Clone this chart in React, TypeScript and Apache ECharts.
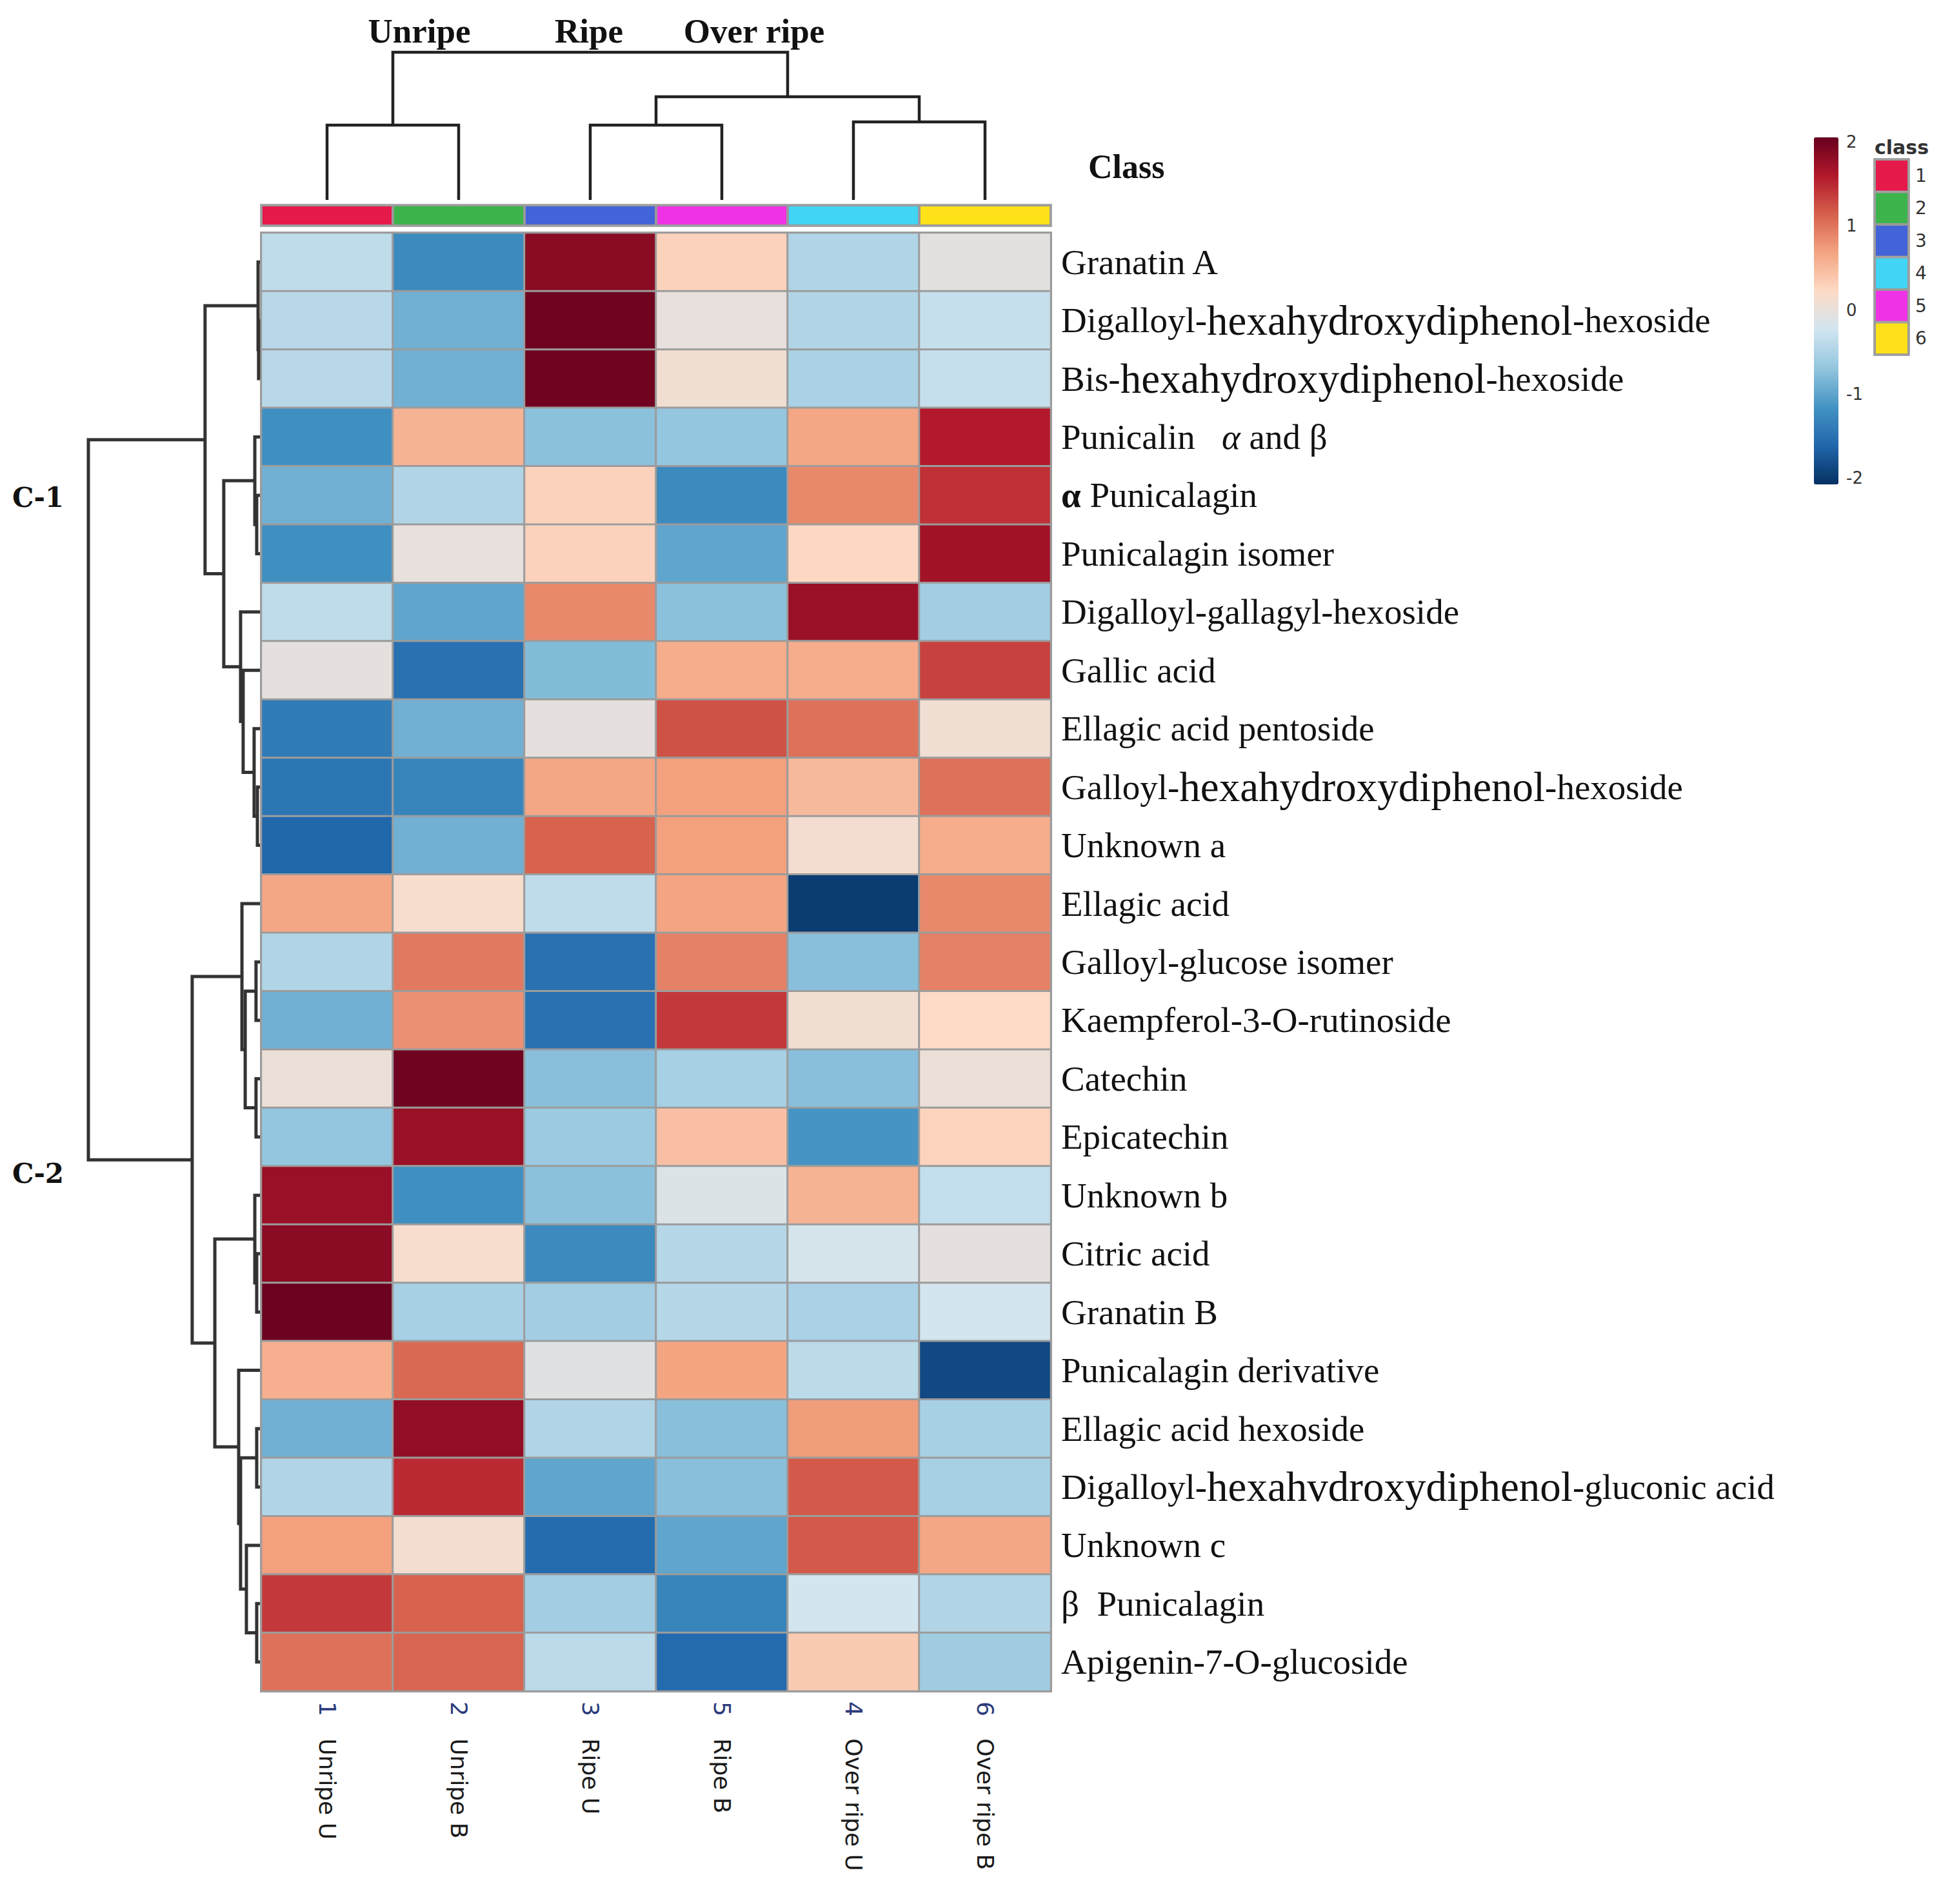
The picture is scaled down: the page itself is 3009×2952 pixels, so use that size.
import React, { useEffect, useRef } from "react";
import * as echarts from "echarts";

// ---------------- data ----------------
const rowNames = [
  "Granatin A",
  "Digalloyl-hexahydroxydiphenol-hexoside",
  "Bis-hexahydroxydiphenol-hexoside",
  "Punicalin   α and β",
  "α Punicalagin",
  "Punicalagin isomer",
  "Digalloyl-gallagyl-hexoside",
  "Gallic acid",
  "Ellagic acid pentoside",
  "Galloyl-hexahydroxydiphenol-hexoside",
  "Unknown a",
  "Ellagic acid",
  "Galloyl-glucose isomer",
  "Kaempferol-3-O-rutinoside",
  "Catechin",
  "Epicatechin",
  "Unknown b",
  "Citric acid",
  "Granatin B",
  "Punicalagin derivative",
  "Ellagic acid hexoside",
  "Digalloyl-hexahvdroxydiphenol-gluconic acid",
  "Unknown c",
  "β  Punicalagin",
  "Apigenin-7-O-glucoside",
];

const colNames = ["Unripe U", "Unripe B", "Ripe U", "Ripe B", "Over ripe U", "Over ripe B"];
const colNums = ["1", "2", "3", "5", "4", "6"];
const colClass = [1, 2, 3, 5, 4, 6];

const classLabels = ["1", "2", "3", "4", "5", "6"];
const classColors = ["#E6194B", "#3CB44B", "#4363D8", "#42D4F4", "#F032E6", "#FFE119"];

const groupLabels = ["Unripe", "Ripe", "Over ripe"];
const clusterLabels = ["C-1", "C-2"];

// z-scores per sample column (rows in the order of rowNames)
const unripeU = [-0.35, -0.4, -0.4, -1.15, -0.85, -1.15, -0.35, -0.02, -1.35, -1.4, -1.55, 0.65, -0.45, -0.85, 0.05, -0.65, 1.7, 1.8, 1.97, 0.58, -0.85, -0.45, 0.7, 1.35, 1.0];
const unripeB = [-1.2, -0.85, -0.85, 0.55, -0.45, 0.0, -0.95, -1.45, -0.85, -1.25, -0.85, 0.15, 0.95, 0.8, 1.95, 1.7, -1.15, 0.15, -0.52, 1.05, 1.75, 1.45, 0.12, 1.1, 1.08];
const ripeU = [1.8, 1.95, 1.95, -0.7, 0.3, 0.3, 0.85, -0.75, -0.02, 0.65, 1.1, -0.35, -1.45, -1.45, -0.72, -0.6, -0.7, -1.2, -0.55, -0.08, -0.45, -0.95, -1.5, -0.55, -0.38];
const ripeB = [0.3, 0.0, 0.1, -0.65, -1.2, -0.95, -0.7, 0.6, 1.2, 0.7, 0.7, 0.67, 0.9, 1.35, -0.52, 0.45, -0.12, -0.42, -0.42, 0.66, -0.72, -0.72, -0.95, -1.25, -1.52];
const overRipeU = [-0.45, -0.45, -0.5, 0.65, 0.85, 0.25, 1.7, 0.6, 1.0, 0.5, 0.12, -1.9, -0.72, 0.1, -0.72, -1.1, 0.55, -0.17, -0.5, -0.38, 0.72, 1.15, 1.15, -0.2, 0.35];
const overRipeB = [-0.05, -0.3, -0.3, 1.55, 1.4, 1.65, -0.55, 1.3, 0.1, 1.0, 0.6, 0.85, 0.9, 0.22, 0.05, 0.28, -0.32, -0.02, -0.2, -1.8, -0.52, -0.52, 0.65, -0.45, -0.57];

const columnsData = [unripeU, unripeB, ripeU, ripeB, overRipeU, overRipeB];

// hclust-like merges: [a, b, height]; negative = leaf (1-based), positive = earlier merge (1-based)
const rowMerges: [number, number, number][] = [
  [-2, -3, 0.08],
  [-1, 1, 0.11],
  [-5, -6, 0.19],
  [-4, 3, 0.3],
  [-10, -11, 0.15],
  [-9, 5, 0.34],
  [-8, 6, 0.98],
  [-7, 7, 1.13],
  [4, 8, 2.11],
  [2, 9, 3.2],
  [-13, -14, 0.23],
  [-15, -16, 0.23],
  [11, 12, 0.86],
  [-12, 13, 1.05],
  [-18, -19, 0.19],
  [-17, 15, 0.3],
  [-21, -22, 0.19],
  [-24, -25, 0.19],
  [-23, 18, 0.79],
  [17, 19, 1.13],
  [-20, 20, 1.24],
  [16, 21, 2.63],
  [14, 22, 3.95],
  [10, 23, 10.0],
];

const colMerges: [number, number, number][] = [
  [-1, -2, 5.07],
  [-3, -4, 5.07],
  [-5, -6, 5.28],
  [2, 3, 6.99],
  [1, 4, 10.0],
];

const colorbarMin = -2;
const colorbarMax = 2;
const palette = ["#053061", "#2166AC", "#4393C3", "#92C5DE", "#D1E5F0", "#FDDBC7", "#F4A582", "#D6604D", "#B2182B", "#67001F"];

// ---------------- helpers ----------------
function buildLinks(merges: [number, number, number][]) {
  const pos: number[] = [];
  const hgt: number[] = [];
  const links: number[][] = [];
  const get = (id: number): [number, number] => {
    if (id < 0) return [-id - 1 + 0.5, 0];
    return [pos[id - 1], hgt[id - 1]];
  };
  merges.forEach(([a, b, h]) => {
    const [pa, ha] = get(a);
    const [pb, hb] = get(b);
    links.push([pa, ha, pb, hb, h]);
    pos.push((pa + pb) / 2);
    hgt.push(h);
  });
  return links;
}

function richRow(name: string) {
  let s = name.replace(/(hexah[yv]droxydiphenol)/, "{big|$1}");
  if (s.startsWith("α ")) s = "{b|α}" + s.slice(1);
  s = s.replace("α and", "{it|α} and");
  return s;
}

const SERIF = "Liberation Serif";
const HEAT_TOP = 361;
const HEAT_H = 2261;

export default function App() {
  const ref = useRef<HTMLDivElement>(null);

  useEffect(() => {
    if (!ref.current) return;
    const chart = echarts.init(ref.current, undefined, { renderer: "svg" });

    const heatData: number[][] = [];
    columnsData.forEach((col, ci) => {
      col.forEach((v, ri) => heatData.push([ci, ri, v]));
    });

    const rowLinks = buildLinks(rowMerges);
    const colLinks = buildLinks(colMerges);

    const option: any = {
      animation: false,
      backgroundColor: "#ffffff",
      grid: [
        { left: 405, top: HEAT_TOP, width: 1224, height: HEAT_H, show: true, borderColor: "#9c9c9c", borderWidth: 4, backgroundColor: "transparent" },
        { left: 405, top: 318, width: 1224, height: 32, show: true, borderColor: "#a8a8a8", borderWidth: 4, backgroundColor: "transparent" },
        { left: 405, top: 81, width: 1224, height: 229 },
        { left: 137, top: HEAT_TOP, width: 266, height: HEAT_H },
        { left: 2906, top: 247, width: 53, height: 303, show: true, borderColor: "#a6a6a6", borderWidth: 4, backgroundColor: "transparent" },
        { left: 2851, top: 220, width: 1, height: 521 },
      ],
      xAxis: [
        {
          gridIndex: 0,
          type: "category",
          data: colNames,
          position: "bottom",
          axisLine: { show: false },
          axisTick: { show: false },
          splitLine: { show: false },
          axisLabel: {
            interval: 0,
            rotate: -90,
            margin: 16,
            fontFamily: "DejaVu Sans",
            fontSize: 36,
            color: "#1a1a1a",
            formatter: (v: string, i: number) => `{n|${colNums[i]}}   ${v}`,
            rich: { n: { fontFamily: "DejaVu Sans", fontSize: 36, color: "#2a3a7a" } },
          },
        },
        { gridIndex: 1, type: "category", data: colNames, show: false },
        { gridIndex: 2, type: "value", min: 0, max: colNames.length, show: false },
        { gridIndex: 3, type: "value", min: 0, max: 10, inverse: true, show: false },
        { gridIndex: 4, type: "value", min: 0, max: 1, show: false },
        { gridIndex: 5, type: "value", min: 0, max: 1, show: false },
      ],
      yAxis: [
        {
          gridIndex: 0,
          type: "category",
          data: rowNames,
          inverse: true,
          position: "right",
          axisLine: { show: false },
          axisTick: { show: false },
          splitLine: { show: false },
          axisLabel: {
            interval: 0,
            margin: 16,
            fontFamily: SERIF,
            fontSize: 55,
            color: "#111111",
            formatter: (v: string) => richRow(v),
            rich: {
              big: { fontFamily: SERIF, fontSize: 65, color: "#111111", verticalAlign: "bottom" },
              it: { fontFamily: SERIF, fontSize: 55, fontStyle: "italic", color: "#111111", verticalAlign: "bottom" },
              b: { fontFamily: SERIF, fontSize: 55, fontWeight: "bold", color: "#111111", verticalAlign: "bottom" },
            },
          },
        },
        { gridIndex: 1, type: "value", min: 0, max: 1, show: false },
        { gridIndex: 2, type: "value", min: 0, max: 10, show: false },
        { gridIndex: 3, type: "value", min: 0, max: rowNames.length, inverse: true, show: false },
        {
          gridIndex: 4,
          type: "category",
          data: classLabels,
          inverse: true,
          position: "right",
          axisLine: { show: false },
          axisTick: { show: false },
          splitLine: { show: false },
          axisLabel: { interval: 0, margin: 10, fontFamily: "DejaVu Sans", fontSize: 28, color: "#333333" },
        },
        {
          gridIndex: 5,
          type: "value",
          min: colorbarMin,
          max: colorbarMax,
          interval: 1,
          position: "right",
          axisLine: { show: false },
          axisTick: { show: false },
          splitLine: { show: false },
          axisLabel: { margin: 10, fontFamily: "DejaVu Sans", fontSize: 26, color: "#333333" },
        },
      ],
      visualMap: {
        type: "continuous",
        min: colorbarMin,
        max: colorbarMax,
        seriesIndex: 0,
        inRange: { color: palette },
        show: true,
        calculable: false,
        hoverLink: false,
        left: 2812,
        top: 213,
        padding: 0,
        itemWidth: 38,
        itemHeight: 538,
        text: null,
      },
      series: [
        {
          type: "heatmap",
          xAxisIndex: 0,
          yAxisIndex: 0,
          data: heatData,
          itemStyle: { borderColor: "#9c9c9c", borderWidth: 3 },
          silent: true,
        },
        {
          type: "bar",
          xAxisIndex: 1,
          yAxisIndex: 1,
          barWidth: "100%",
          silent: true,
          data: colClass.map((c) => ({ value: 1, itemStyle: { color: classColors[c - 1] } })),
          itemStyle: { borderColor: "#999999", borderWidth: 2 },
        },
        {
          type: "custom",
          xAxisIndex: 2,
          yAxisIndex: 2,
          silent: true,
          data: colLinks,
          renderItem: (_p: any, api: any) => {
            const pa = api.value(0), ha = api.value(1), pb = api.value(2), hb = api.value(3), h = api.value(4);
            return {
              type: "polyline",
              shape: { points: [api.coord([pa, ha]), api.coord([pa, h]), api.coord([pb, h]), api.coord([pb, hb])] },
              style: { stroke: "#222222", lineWidth: 4.5, fill: "none" },
            };
          },
        },
        {
          type: "custom",
          xAxisIndex: 3,
          yAxisIndex: 3,
          silent: true,
          data: rowLinks,
          renderItem: (_p: any, api: any) => {
            const pa = api.value(0), ha = api.value(1), pb = api.value(2), hb = api.value(3), h = api.value(4);
            return {
              type: "polyline",
              shape: { points: [api.coord([ha, pa]), api.coord([h, pa]), api.coord([h, pb]), api.coord([hb, pb])] },
              style: { stroke: "#333333", lineWidth: 5, fill: "none" },
            };
          },
        },
        {
          type: "bar",
          xAxisIndex: 4,
          yAxisIndex: 4,
          barWidth: "100%",
          silent: true,
          data: classColors.map((c) => ({ value: 1, itemStyle: { color: c } })),
          itemStyle: { borderColor: "#999999", borderWidth: 2 },
        },
      ],
      graphic: [
        ...groupLabels.map((t, i) => ({
          type: "text",
          x: [650, 913, 1169][i],
          y: 48,
          style: { text: t, fontFamily: SERIF, fontWeight: "bold", fontSize: 53, fill: "#111", textAlign: "center", textVerticalAlign: "middle" },
        })),
        {
          type: "text",
          x: 1687,
          y: 258,
          style: { text: "Class", fontFamily: SERIF, fontWeight: "bold", fontSize: 52, fill: "#111", textAlign: "left", textVerticalAlign: "middle" },
        },
        ...clusterLabels.map((t, i) => ({
          type: "text",
          x: 19,
          y: [771, 1819][i],
          style: { text: t, fontFamily: "DejaVu Serif", fontWeight: "bold", fontSize: 42, fill: "#111", textAlign: "left", textVerticalAlign: "middle" },
        })),
        {
          type: "text",
          x: 2906,
          y: 228,
          style: { text: "class", fontFamily: "DejaVu Sans", fontWeight: "bold", fontSize: 30, fill: "#333", textAlign: "left", textVerticalAlign: "middle" },
        },
      ],
    };

    chart.setOption(option);
    return () => chart.dispose();
  }, []);

  return <div ref={ref} style={{ position: "absolute", left: 0, top: 0, width: 3009, height: 2952 }} />;
}
